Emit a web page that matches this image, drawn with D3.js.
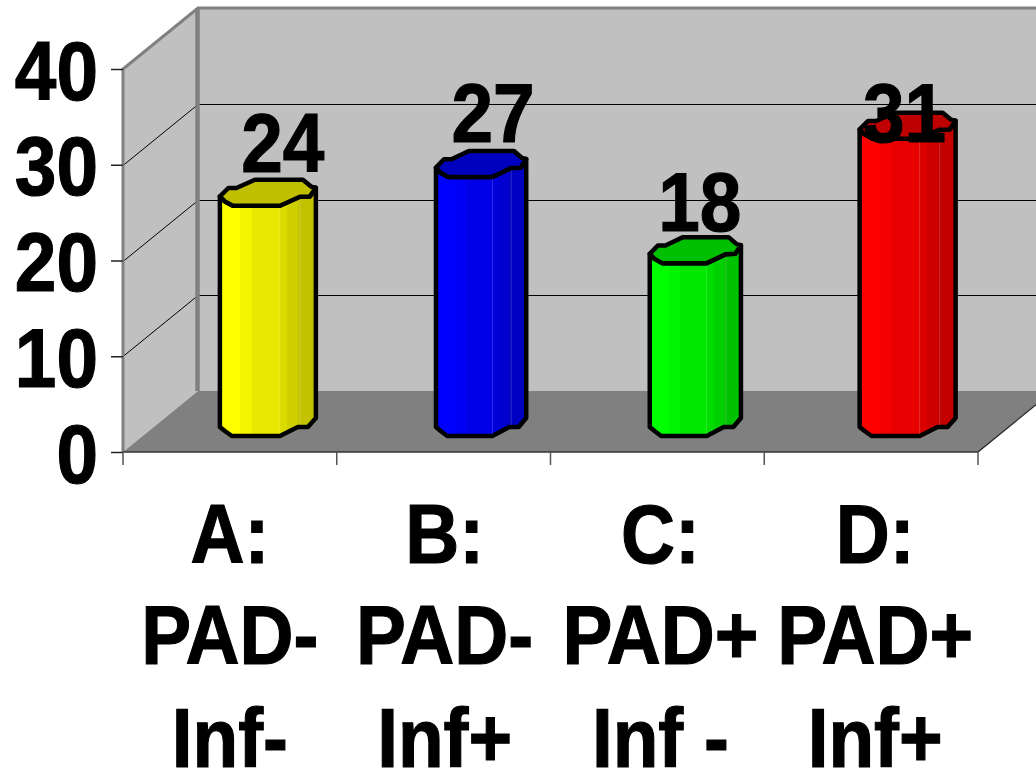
<!DOCTYPE html>
<html><head><meta charset="utf-8">
<script src="https://cdn.jsdelivr.net/npm/d3@7/dist/d3.min.js"></script>
<style>html,body{margin:0;padding:0;background:#fff;overflow:hidden}svg{display:block}text{font-family:"Liberation Sans",Arial,sans-serif;font-weight:bold;fill:#000;stroke:#000;stroke-width:1.2px}</style>
</head><body><svg id="c" width="1036" height="772"></svg>
<script>
const categories=[["A:","PAD-","Inf-"],["B:","PAD-","Inf+"],["C:","PAD+","Inf -"],["D:","PAD+","Inf+"]];
const values=[24,27,18,31];
const colors=["#ffff00","#0000ff","#00ff00","#ff0000"];
const yTicks=[0,10,20,30,40];
const left=123,right=978,base=452,top40=69,dx=75,dy=-61;
const fontSize=84,squeeze=.89;
const svg=d3.select("#c");
const x=d3.scaleBand().domain(d3.range(categories.length)).range([left,right]);
const y=d3.scaleLinear().domain([0,40]).range([base,top40]);
const ry=v=>Math.round(y(v))+.5;
const poly=p=>p.map(d=>d.join(",")).join(" ");
// walls and floor
svg.append("polygon").attr("points",poly([[left+dx,y(40)+dy],[1100,y(40)+dy],[1100,base+dy],[left+dx,base+dy]])).attr("fill","#c0c0c0");
svg.append("polygon").attr("points",poly([[left,y(40)],[left+dx,y(40)+dy],[left+dx,base+dy],[left,base]])).attr("fill","#c0c0c0");
svg.append("polygon").attr("points",poly([[left,base],[right,base],[right+dx,base+dy],[left+dx,base+dy]])).attr("fill","#808080");
// gridlines
yTicks.filter(t=>t>0&&t<40).forEach(t=>{
 svg.append("path").attr("d",`M${left},${ry(t)}L${left+dx},${ry(t)+dy}H1040`).attr("fill","none").attr("stroke","#000").attr("stroke-width",1);
});
// frame
svg.append("path").attr("d",`M${left},${base}V${y(40)}L${left+dx},${y(40)+dy}H1040`).attr("fill","none").attr("stroke","#808080").attr("stroke-width",3);
svg.append("path").attr("d",`M${left+dx-.5},${y(40)+dy}V${base+dy}`).attr("fill","none").attr("stroke","#808080").attr("stroke-width",4.5);
svg.append("path").attr("d",`M${right},${base}L${right+dx},${base+dy}`).attr("stroke","#222").attr("stroke-width",1.2).attr("fill","none");
// axes
const ax=svg.append("g").attr("transform",`translate(${left},0)`).call(d3.axisLeft(y).tickValues(yTicks).tickSize(12).tickFormat(d3.format("d")));
ax.select(".domain").remove();
ax.selectAll("line").attr("stroke","#222").attr("stroke-width",1.5);
ax.selectAll("text").attr("font-size",fontSize).attr("dy",0).attr("x",0).attr("y",0).attr("text-anchor","end")
  .attr("transform",`translate(-25,30) scale(${squeeze},1)`);
svg.append("line").attr("x1",left).attr("x2",right).attr("y1",base).attr("y2",base).attr("stroke","#333").attr("stroke-width",1.5);
const edges=x.domain().map(i=>x(i)).concat([right]);
svg.selectAll(".xt").data(edges).join("line").attr("class","xt").attr("x1",d=>d).attr("x2",d=>d).attr("y1",base).attr("y2",465).attr("stroke","#555").attr("stroke-width",1.5);
// bars
const defs=svg.append("defs");
const bandStops=[[0,1],[.21,1],[.215,.96],[.33,.96],[.335,.91],[.625,.91],[.63,.86],[.70,.86],[.705,.81],[.81,.81],[.815,.76],[1,.76]];
const shade=(c,k)=>{const r=d3.rgb(c);return d3.rgb(r.r*k,r.g*k,r.b*k).formatHex();};
const topRing=[[-47.5,3.7],[-39,-4.7],[-31,-4.7],[-12.5,-13],[35.5,-13],[44,-6],[48.5,-5],[42.5,3.7],[32.5,4],[12.5,13],[-34.5,13],[-42.5,8.7]];
const frontTop=[[48.5,-5],[42.5,3.7],[32.5,4],[12.5,13],[-34.5,13],[-42.5,8.7],[-47.5,3.7]];
const bottom=[[-47.5,4],[-42.5,8],[-35.5,13],[12.5,13],[30.5,4],[40.5,4],[48.5,-5]];
const widthK=[1,.94,.95,1],shift=[0,-.5,0,-1.5];
const labelDx=[15.5,12,5,-4],labelDy=[-21,-22,-19,16];
const yBar=v=>y(v)+dy/2+1;
const place=(sel,px,py)=>sel.attr("transform",`translate(${px},${py}) scale(${squeeze},1)`).attr("text-anchor","middle").attr("font-size",fontSize);
values.forEach((v,i)=>{
 const id="g"+i,c0=x(i)+x.bandwidth()/2+dx/2,cx=c0+shift[i],c=colors[i],cy=yBar(v),by=yBar(0)+.5,k=widthK[i];
 const g=defs.append("linearGradient").attr("id",id);
 bandStops.forEach(s=>g.append("stop").attr("offset",s[0]).attr("stop-color",shade(c,s[1])));
 const body=[...frontTop.map(p=>[cx+p[0]*k,cy+p[1]]),...bottom.map(p=>[cx+p[0]*k,by+p[1]])];
 svg.append("polygon").attr("points",poly(body)).attr("fill",`url(#${id})`).attr("stroke","#000").attr("stroke-width",4.5).attr("stroke-linejoin","round");
 [12.5,32.5].forEach((o,j)=>svg.append("line").attr("x1",cx+o*k).attr("x2",cx+o*k).attr("y1",cy+(j?6:15)).attr("y2",by+(j?2:11)).attr("stroke","#fff").attr("stroke-opacity",.18).attr("stroke-width",1));
 svg.append("polygon").attr("points",poly(topRing.map(p=>[cx+p[0]*k,cy+p[1]]))).attr("fill",shade(c,.75)).attr("stroke","#000").attr("stroke-width",4.5).attr("stroke-linejoin","round");
 place(svg.append("text"),c0+labelDx[i],cy+labelDy[i]).text(v);
});
// category labels
const catDx=[0,1,3,4],lineY=[563,664,767];
categories.forEach((lines,i)=>{
 const cx=x(i)+x.bandwidth()/2+catDx[i];
 lines.forEach((t,j)=>place(svg.append("text"),cx,lineY[j]).text(t));
});
</script></body></html>
